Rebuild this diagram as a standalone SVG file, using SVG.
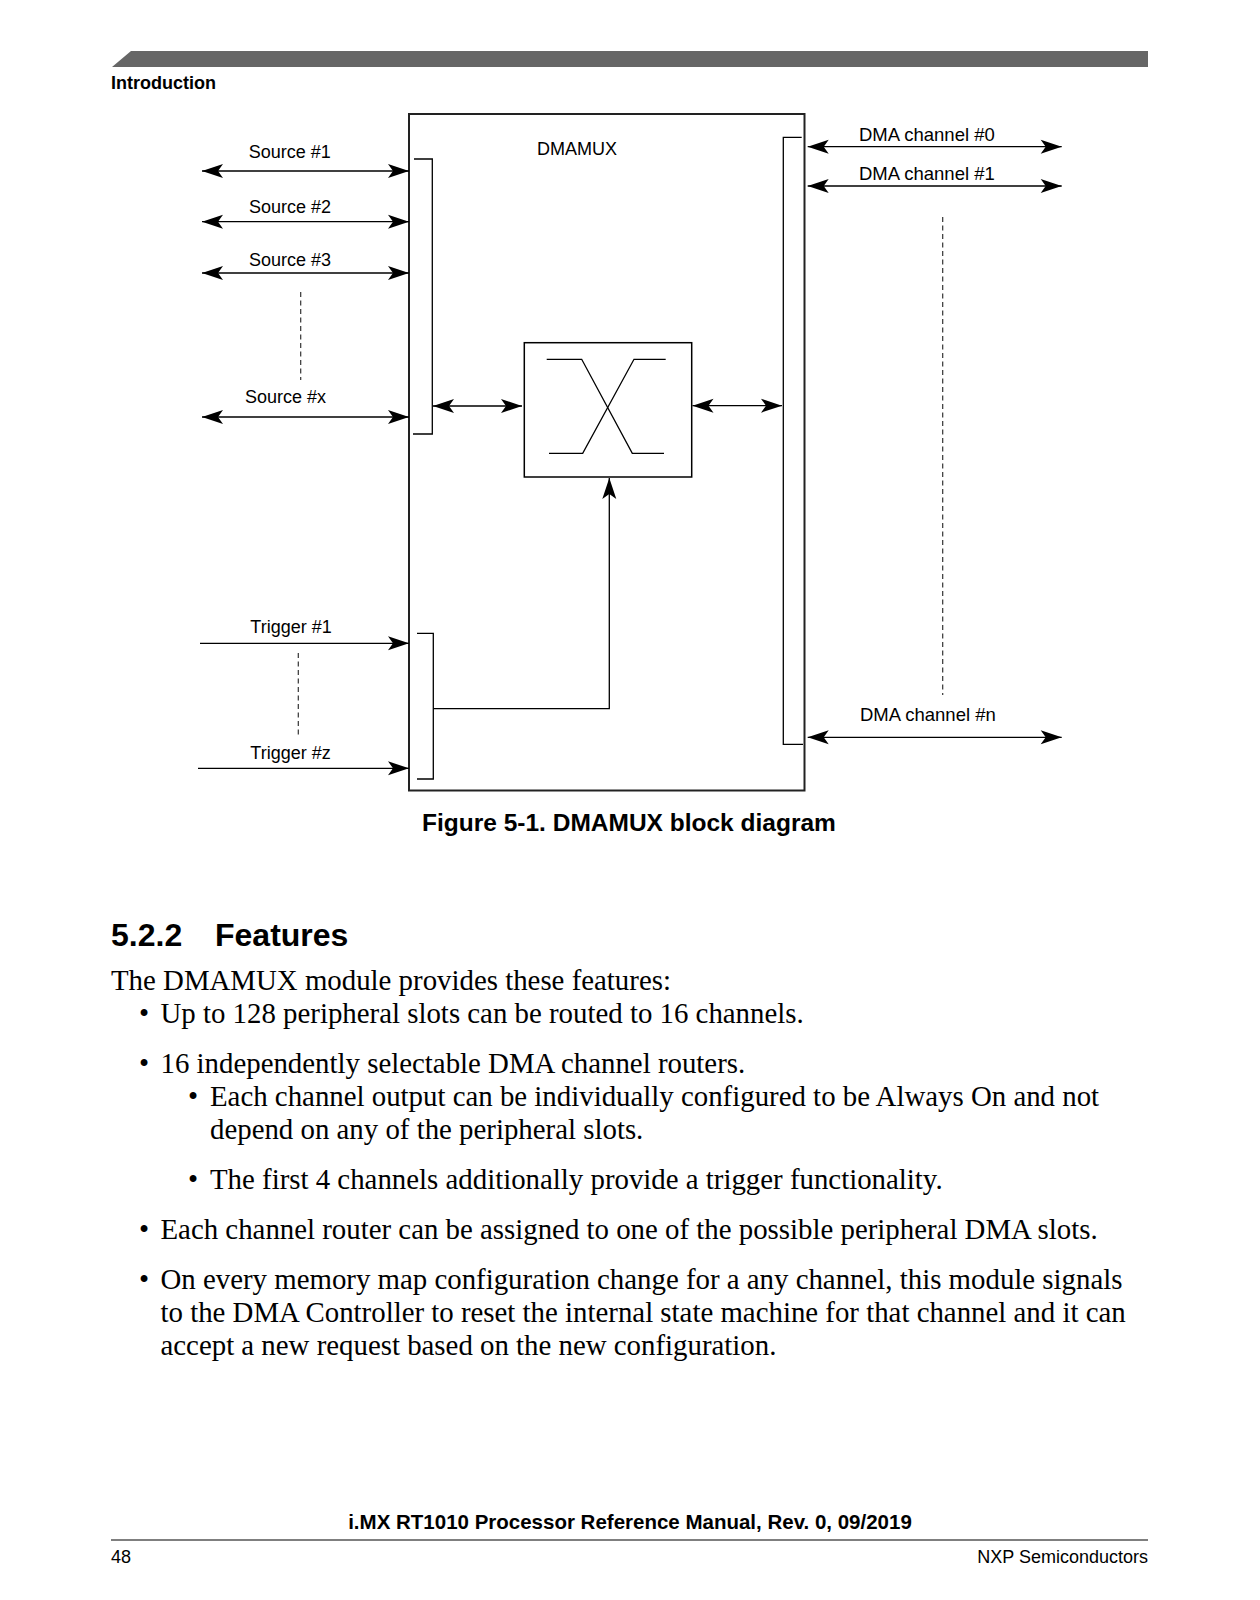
<svg xmlns="http://www.w3.org/2000/svg" width="1260" height="1600" viewBox="0 0 1260 1600">
<style>
.lbl{font-family:"Liberation Sans",Arial,sans-serif;font-size:18px;fill:#000}
.lbl2{font-family:"Liberation Sans",Arial,sans-serif;font-size:18.5px;fill:#000}
.ln{fill:none;stroke:#000;stroke-width:1.3}
.dash{fill:none;stroke:#333;stroke-width:1.2;stroke-dasharray:5 3.5}
.body{font-family:"Liberation Serif","Times New Roman",serif;font-size:28.85px;fill:#000}
.bold{font-family:"Liberation Sans",Arial,sans-serif;font-weight:bold;fill:#000}
</style>
<defs>
<marker id="ah" viewBox="-22 -9 23 18" refX="0" refY="0" markerWidth="23" markerHeight="18" markerUnits="userSpaceOnUse" orient="auto-start-reverse">
<path d="M0,0 L-21,-7 L-16,0 L-21,7 Z" fill="#000"/>
</marker>
</defs>
<rect width="1260" height="1600" fill="#fff"/>

<g id="page-header">
<polygon points="131,51 1148,51 1148,67 112,67" fill="#666"/>
<text class="bold" x="111" y="89" font-size="18">Introduction</text>
</g>

<g id="dmamux">
<rect x="409" y="114" width="395.5" height="676.5" fill="none" stroke="#222" stroke-width="2"/>
<text class="lbl" x="537" y="155">DMAMUX</text>
</g>

<g id="source-bar"><path class="ln" d="M414,159 H432.3 V434 H413"/></g>
<g id="trigger-bar"><path class="ln" d="M417,633.3 H433.3 V779 H417"/></g>
<g id="channel-bar"><path class="ln" d="M801.7,137.3 H783.3 V744.3 H803"/></g>

<g id="crossbar">
<rect x="524.3" y="342.7" width="167.4" height="134.3" fill="none" stroke="#000" stroke-width="1.5"/>
<path class="ln" d="M546.7,359.3 H581.7 L632.3,453.3 H664"/>
<path class="ln" d="M549,453.3 H582.7 L634,359.3 H665.7"/>
</g>

<g id="labels">
<text class="lbl" x="289.7" y="158" text-anchor="middle">Source #1</text>
<text class="lbl" x="290" y="213.3" text-anchor="middle">Source #2</text>
<text class="lbl" x="290" y="265.7" text-anchor="middle">Source #3</text>
<text class="lbl" x="285.5" y="402.7" text-anchor="middle">Source #x</text>
<text class="lbl" x="291" y="633.3" text-anchor="middle">Trigger #1</text>
<text class="lbl" x="290.5" y="759" text-anchor="middle">Trigger #z</text>
<text class="lbl2" x="859" y="141">DMA channel #0</text>
<text class="lbl2" x="859" y="180">DMA channel #1</text>
<text class="lbl2" x="860" y="721">DMA channel #n</text>
</g>

<g id="connectors">
<line class="ln" x1="202" y1="171" x2="409" y2="171" marker-start="url(#ah)" marker-end="url(#ah)"/>
<line class="ln" x1="202" y1="221.7" x2="409" y2="221.7" marker-start="url(#ah)" marker-end="url(#ah)"/>
<line class="ln" x1="202" y1="273" x2="409" y2="273" marker-start="url(#ah)" marker-end="url(#ah)"/>
<line class="ln" x1="202" y1="417" x2="409" y2="417" marker-start="url(#ah)" marker-end="url(#ah)"/>
<line class="dash" x1="300.7" y1="292" x2="300.7" y2="380"/>
<line class="ln" x1="200" y1="643.3" x2="409" y2="643.3" marker-end="url(#ah)"/>
<line class="ln" x1="198" y1="768.3" x2="409" y2="768.3" marker-end="url(#ah)"/>
<line class="dash" x1="298.3" y1="653" x2="298.3" y2="736.7"/>
<line class="ln" x1="433" y1="406" x2="522" y2="406" marker-start="url(#ah)" marker-end="url(#ah)"/>
<line class="ln" x1="692.5" y1="405.7" x2="782" y2="405.7" marker-start="url(#ah)" marker-end="url(#ah)"/>
<path class="ln" d="M433.3,708.7 H609.3 V478" marker-end="url(#ah)"/>
<line class="ln" x1="807.7" y1="146.7" x2="1061.7" y2="146.7" marker-start="url(#ah)" marker-end="url(#ah)"/>
<line class="ln" x1="807.7" y1="186" x2="1061.7" y2="186" marker-start="url(#ah)" marker-end="url(#ah)"/>
<line class="ln" x1="807.7" y1="737.3" x2="1061.7" y2="737.3" marker-start="url(#ah)" marker-end="url(#ah)"/>
<line class="dash" x1="942.7" y1="217" x2="942.7" y2="695" stroke="#777"/>
</g>

<g id="caption">
<text class="bold" x="422" y="830.7" font-size="24.5">Figure 5-1. DMAMUX block diagram</text>
</g>

<g id="body-text">
<text class="bold" x="111" y="946" font-size="32">5.2.2</text>
<text class="bold" x="215" y="946" font-size="32">Features</text>
<text class="body" x="111" y="989.6">The DMAMUX module provides these features:</text>
<text class="body" x="139" y="1022.6">•</text>
<text class="body" x="160.5" y="1022.6">Up to 128 peripheral slots can be routed to 16 channels.</text>
<text class="body" x="139" y="1073.2">•</text>
<text class="body" x="160.5" y="1073.2">16 independently selectable DMA channel routers.</text>
<text class="body" x="188" y="1105.9">•</text>
<text class="body" x="210" y="1105.9">Each channel output can be individually configured to be Always On and not</text>
<text class="body" x="210" y="1138.5">depend on any of the peripheral slots.</text>
<text class="body" x="188" y="1188.5">•</text>
<text class="body" x="210" y="1188.5">The first 4 channels additionally provide a trigger functionality.</text>
<text class="body" x="139" y="1238.5">•</text>
<text class="body" x="160.5" y="1238.5">Each channel router can be assigned to one of the possible peripheral DMA slots.</text>
<text class="body" x="139" y="1288.5">•</text>
<text class="body" x="160.5" y="1288.5">On every memory map configuration change for a any channel, this module signals</text>
<text class="body" x="160.5" y="1321.5">to the DMA Controller to reset the internal state machine for that channel and it can</text>
<text class="body" x="160.5" y="1354.5">accept a new request based on the new configuration.</text>
</g>

<g id="page-footer">
<text class="bold" x="630" y="1529" font-size="20.5" text-anchor="middle">i.MX RT1010 Processor Reference Manual, Rev. 0, 09/2019</text>
<line x1="111" y1="1540" x2="1148" y2="1540" stroke="#000" stroke-width="1.2"/>
<text class="lbl" x="111" y="1563">48</text>
<text class="lbl" x="1148" y="1563" text-anchor="end">NXP Semiconductors</text>
</g>
</svg>
